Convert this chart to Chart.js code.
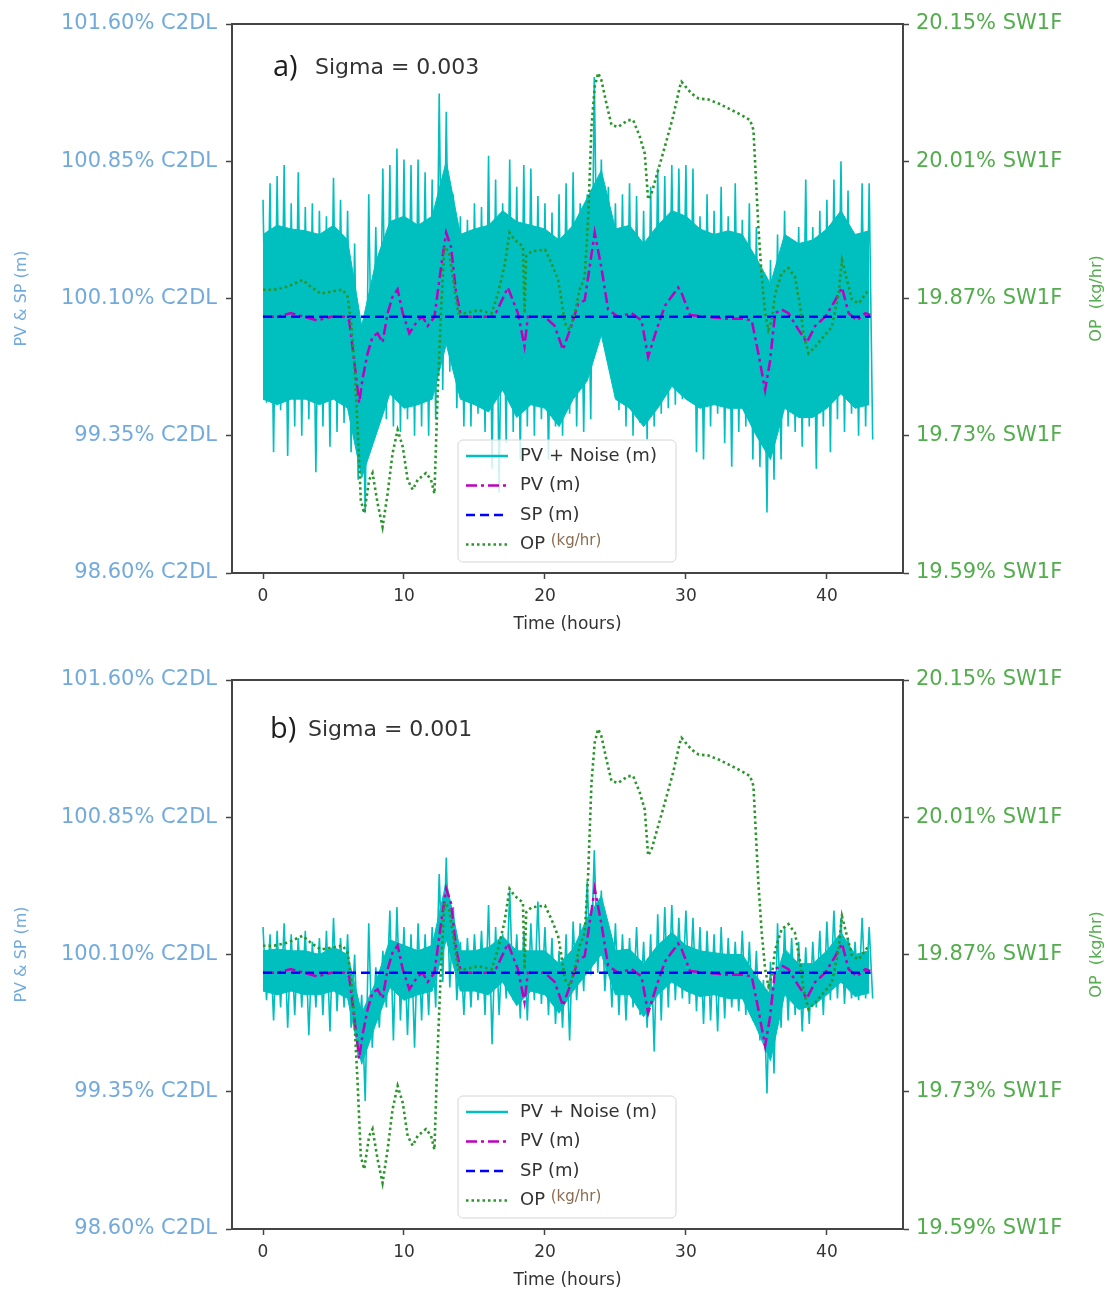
<!DOCTYPE html>
<html>
<head>
<meta charset="utf-8">
<script src="https://cdn.jsdelivr.net/npm/chart.js@4.4.0/dist/chart.umd.min.js"></script>
<style>
  body { margin: 0; background: #fff; overflow: hidden; }
  .panel { position: absolute; left: 0; width: 1113px; height: 645px; }
</style>
</head>
<body>
<div class="panel" style="top:0"><canvas id="chartA" width="1113" height="645"></canvas></div>
<div class="panel" style="top:656px"><canvas id="chartB" width="1113" height="645"></canvas></div>
<script>
// tick labels
const xTicks = [0, 10, 20, 30, 40];
const pvTicks = [98.60, 99.35, 100.10, 100.85, 101.60];
const opTicks = [19.59, 19.73, 19.87, 20.01, 20.15];

// setpoint
const spHours = [0, 43.1];
const spValues = [100.0, 100.0];

// PV (m) - same in both panels
const pvHours = [0, 1.0, 1.97, 2.9, 3.86, 4.81, 5.76, 6.11, 6.47, 6.82,
  7.06, 7.42, 7.77, 8.13, 8.48, 8.84, 9.19, 9.55, 9.91, 10.38,
  10.97, 11.33, 11.68, 12.16, 12.63, 12.99, 13.34, 13.7, 14.05, 15.0,
  16.4, 17.37, 18.08, 18.55, 18.79, 19.98, 20.69, 21.28, 21.87, 22.35,
  22.82, 23.53, 24.0, 24.48, 25.2, 26.14, 26.85, 27.32, 27.92, 28.51,
  29.45, 29.69, 30.29, 31.59, 32.77, 33.96, 34.67, 35.14, 35.62, 35.97,
  36.33, 36.8, 37.27, 37.98, 38.58, 39.17, 39.88, 40.59, 41.07, 41.54,
  42.13, 42.73, 43.08];
const pvValues = [100.00, 100.00, 100.02, 100.00, 99.98, 100.00, 100.00, 99.98, 99.76, 99.53,
  99.66, 99.80, 99.89, 99.91, 99.86, 100.02, 100.11, 100.15, 100.02, 99.91,
  99.98, 100.00, 99.95, 100.00, 100.27, 100.46, 100.38, 100.13, 100.00, 100.00,
  100.00, 100.16, 100.02, 99.84, 100.00, 100.00, 99.95, 99.82, 99.95, 100.07,
  100.09, 100.46, 100.27, 100.04, 100.00, 100.02, 99.98, 99.78, 99.93, 100.06,
  100.16, 100.13, 100.01, 100.00, 99.99, 99.99, 99.98, 99.80, 99.60, 99.76,
  100.02, 100.04, 100.02, 99.93, 99.86, 99.95, 100.00, 100.09, 100.16, 100.02,
  99.98, 100.02, 100.01];

// OP (kg/hr) - right axis
const opHours = [0, 0.78, 1.73, 2.80, 3.39, 4.1, 4.81, 5.64, 6.0, 6.23,
  6.47, 6.71, 6.94, 7.18, 7.53, 7.77, 8.13, 8.48, 8.84, 9.19,
  9.55, 9.91, 10.26, 10.62, 10.97, 11.56, 11.92, 12.16, 12.39, 12.63,
  12.87, 13.2, 13.85, 14.3, 15.27, 16.22, 16.66, 17.13, 17.49, 17.84,
  18.44, 18.55, 18.67, 19.03, 20.0, 20.46, 20.93, 21.17, 21.4, 21.75,
  22.11, 22.46, 22.82, 23.06, 23.3, 23.53, 23.77, 24.0, 24.36, 24.72,
  25.19, 25.9, 26.26, 26.73, 27.08, 27.32, 27.56, 28.03, 28.51, 29.1,
  29.57, 29.69, 30.4, 30.9, 31.59, 32.3, 33.0, 33.96, 34.55, 34.79,
  34.9, 35.14, 35.38, 35.62, 35.85, 36.09, 36.33, 36.8, 37.27, 37.74,
  38.1, 38.34, 38.7, 39.17, 39.76, 40.35, 40.83, 41.07, 41.3, 41.78,
  42.25, 42.97];
const opValues = [19.879, 19.879, 19.882, 19.889, 19.882, 19.875, 19.877, 19.879, 19.872, 19.848,
  19.807, 19.739, 19.664, 19.651, 19.685, 19.692, 19.661, 19.637, 19.671, 19.712,
  19.736, 19.719, 19.685, 19.675, 19.685, 19.692, 19.685, 19.671, 19.773, 19.858,
  19.923, 19.917, 19.855, 19.855, 19.858, 19.855, 19.875, 19.903, 19.937, 19.930,
  19.923, 19.855, 19.913, 19.918, 19.920, 19.906, 19.889, 19.869, 19.845, 19.838,
  19.855, 19.879, 19.892, 19.950, 20.045, 20.086, 20.100, 20.093, 20.069, 20.047,
  20.045, 20.052, 20.052, 20.035, 20.018, 19.971, 19.977, 20.001, 20.025, 20.056,
  20.086, 20.091, 20.079, 20.074, 20.073, 20.069, 20.064, 20.057, 20.052, 20.042,
  20.011, 19.943, 19.892, 19.855, 19.838, 19.848, 19.875, 19.896, 19.901, 19.892,
  19.862, 19.834, 19.814, 19.821, 19.831, 19.841, 19.875, 19.909, 19.896, 19.869,
  19.865, 19.879];

// PV + Noise: spike tops and spike bottoms, read every half hour
const noiseHours = [0, 0.5, 1, 1.5, 2, 2.5, 3, 3.5, 4, 4.5, 5, 5.5, 6, 6.5, 7, 7.5, 8, 8.5, 9, 9.5,
  10, 10.5, 11, 11.5, 12, 12.5, 13, 13.5, 14, 14.5, 15, 15.5, 16, 16.5, 17, 17.5, 18, 18.5, 19, 19.5,
  20, 20.5, 21, 21.5, 22, 22.5, 23, 23.5, 24, 24.5, 25, 25.5, 26, 26.5, 27, 27.5, 28, 28.5, 29, 29.5,
  30, 30.5, 31, 31.5, 32, 32.5, 33, 33.5, 34, 34.5, 35, 35.5, 36, 36.5, 37, 37.5, 38, 38.5, 39, 39.5,
  40, 40.5, 41, 41.5, 42, 42.5, 43];
// dense (solid) part of the noisy band, read every hour
const bodyHours = [0, 1, 2, 3, 4, 5, 6, 7, 8, 9, 10, 11, 12, 13, 14, 15, 16, 17, 18, 19, 20, 21,
  22, 23, 24, 25, 26, 27, 28, 29, 30, 31, 32, 33, 34, 35, 36, 37, 38, 39, 40, 41, 42, 43];

// a) sigma = 0.003
const noiseUpperA = [100.64, 100.73, 100.77, 100.83, 100.62, 100.79, 100.60, 100.62, 100.58, 100.55,
  100.76, 100.64, 100.58, 100.40, 99.95, 100.67, 100.49, 100.81, 100.83, 100.92,
  100.86, 100.83, 100.86, 100.79, 100.75, 101.22, 101.12, 100.67, 100.55, 100.53,
  100.62, 100.60, 100.88, 100.75, 100.62, 100.86, 100.71, 100.83, 100.81, 100.66,
  100.62, 100.57, 100.67, 100.73, 100.79, 100.62, 100.67, 101.31, 100.86, 100.71,
  100.62, 100.67, 100.73, 100.66, 100.58, 100.71, 100.81, 100.77, 100.83, 100.81,
  100.83, 100.81, 100.55, 100.67, 100.58, 100.71, 100.55, 100.73, 100.53, 100.62,
  100.49, 100.17, 100.31, 100.45, 100.58, 100.42, 100.49, 100.75, 100.49, 100.58,
  100.64, 100.75, 100.85, 100.69, 100.45, 100.73, 100.73];
const noiseLowerA = [99.53, 99.26, 99.49, 99.24, 99.40, 99.35, 99.44, 99.15, 99.40, 99.29,
  99.37, 99.42, 99.26, 99.11, 98.93, 99.40, 99.47, 99.44, 99.40, 99.37,
  99.44, 99.35, 99.40, 99.35, 99.44, 99.60, 99.70, 99.50, 99.40, 99.40,
  99.47, 99.37, 99.17, 99.04, 99.31, 99.37, 99.22, 99.40, 99.35, 99.44,
  99.22, 99.40, 99.35, 99.47, 99.40, 99.37, 99.44, 99.87, 99.83, 99.68,
  99.49, 99.40, 99.35, 99.42, 99.33, 99.40, 99.47, 99.50, 99.52, 99.55,
  99.55, 99.26, 99.22, 99.40, 99.47, 99.31, 99.18, 99.37, 99.40, 99.22,
  99.18, 98.93, 99.11, 99.22, 99.40, 99.37, 99.29, 99.40, 99.17, 99.40,
  99.26, 99.44, 99.37, 99.47, 99.35, 99.40, 99.33];
const bodyTopA = [100.45, 100.50, 100.48, 100.47, 100.45, 100.50, 100.42, 99.95, 100.30, 100.52,
  100.55, 100.50, 100.55, 100.85, 100.45, 100.48, 100.50, 100.58, 100.52, 100.50,
  100.48, 100.42, 100.50, 100.65, 100.80, 100.48, 100.50, 100.40, 100.50, 100.58,
  100.55, 100.48, 100.45, 100.47, 100.45, 100.32, 100.18, 100.45, 100.40, 100.42,
  100.48, 100.58, 100.45, 100.47];
const bodyBottomA = [99.55, 99.52, 99.55, 99.55, 99.52, 99.55, 99.50, 99.12, 99.35, 99.58,
  99.50, 99.52, 99.55, 99.85, 99.55, 99.52, 99.48, 99.60, 99.45, 99.52,
  99.50, 99.40, 99.55, 99.65, 99.90, 99.55, 99.50, 99.40, 99.50, 99.62,
  99.55, 99.50, 99.52, 99.50, 99.50, 99.35, 99.22, 99.50, 99.45, 99.45,
  99.50, 99.58, 99.50, 99.52];

// b) sigma = 0.001
const noiseUpperB = [100.25, 100.21, 100.23, 100.27, 100.21, 100.19, 100.23, 100.17, 100.19, 100.23,
  100.30, 100.19, 100.21, 100.10, 99.88, 100.27, 100.03, 100.12, 100.34, 100.36,
  100.25, 100.21, 100.27, 100.21, 100.25, 100.54, 100.63, 100.36, 100.17, 100.19,
  100.21, 100.23, 100.37, 100.25, 100.21, 100.45, 100.21, 100.23, 100.27, 100.39,
  100.25, 100.19, 100.12, 100.21, 100.28, 100.27, 100.50, 100.67, 100.45, 100.23,
  100.27, 100.21, 100.19, 100.25, 100.17, 100.21, 100.32, 100.36, 100.37, 100.30,
  100.34, 100.30, 100.25, 100.23, 100.21, 100.25, 100.19, 100.17, 100.23, 100.17,
  100.12, 99.96, 100.06, 100.27, 100.25, 100.19, 100.17, 100.14, 100.17, 100.23,
  100.28, 100.34, 100.30, 100.19, 100.17, 100.30, 100.25];
const noiseLowerB = [99.85, 99.74, 99.81, 99.70, 99.77, 99.81, 99.66, 99.81, 99.77, 99.68,
  99.79, 99.81, 99.70, 99.54, 99.30, 99.59, 99.70, 99.81, 99.63, 99.74,
  99.66, 99.59, 99.74, 99.77, 99.81, 99.95, 99.92, 99.85, 99.77, 99.81,
  99.85, 99.77, 99.61, 99.77, 99.86, 99.85, 99.75, 99.74, 99.85, 99.83,
  99.77, 99.72, 99.70, 99.63, 99.85, 99.90, 99.99, 100.00, 99.90, 99.81,
  99.77, 99.74, 99.81, 99.77, 99.70, 99.57, 99.74, 99.81, 99.85, 99.86,
  99.83, 99.79, 99.72, 99.74, 99.68, 99.75, 99.81, 99.79, 99.77, 99.74,
  99.63, 99.34, 99.45, 99.70, 99.74, 99.77, 99.68, 99.72, 99.81, 99.77,
  99.85, 99.86, 99.83, 99.86, 99.85, 99.86, 99.86];
const bodyTopB = [100.12, 100.13, 100.12, 100.12, 100.10, 100.14, 100.10, 99.78, 99.95, 100.18,
  100.15, 100.12, 100.15, 100.50, 100.12, 100.12, 100.14, 100.20, 100.12, 100.12,
  100.12, 100.05, 100.13, 100.30, 100.42, 100.12, 100.13, 100.05, 100.15, 100.22,
  100.15, 100.12, 100.11, 100.10, 100.10, 99.98, 99.88, 100.13, 100.05, 100.05,
  100.12, 100.22, 100.10, 100.12];
const bodyBottomB = [99.90, 99.88, 99.90, 99.88, 99.88, 99.90, 99.86, 99.50, 99.72, 99.92,
  99.85, 99.88, 99.90, 100.18, 99.90, 99.90, 99.88, 99.95, 99.82, 99.90,
  99.88, 99.78, 99.90, 100.00, 100.10, 99.88, 99.88, 99.76, 99.88, 99.95,
  99.90, 99.87, 99.88, 99.86, 99.86, 99.70, 99.52, 99.88, 99.80, 99.82,
  99.88, 99.95, 99.87, 99.89];

const LEFT_COLOR = '#73aadc';
const RIGHT_COLOR = '#52ad4c';
const AXIS_COLOR = '#444';
const CYAN = '#00bfbf';

function zip(xs, ys) {
  return xs.map((x, i) => ({ x: x, y: ys[i] }));
}

// noisy trace: from each spike top down to the next spike bottom
function zigzag(xs, tops, bottoms) {
  const pts = [];
  xs.forEach((x, i) => {
    pts.push({ x: x, y: tops[i] });
    pts.push({ x: x + 0.25, y: bottoms[i] });
  });
  return pts;
}

// draws the top spine, axis titles, the panel label and the legend box
const overlayPlugin = {
  id: 'overlay',
  afterDraw(chart, args, opts) {
    const ctx = chart.ctx;
    const ca = chart.chartArea;
    ctx.save();

    ctx.strokeStyle = AXIS_COLOR;
    ctx.lineWidth = 2;
    ctx.beginPath();
    ctx.moveTo(ca.left, ca.top);
    ctx.lineTo(ca.right, ca.top);
    ctx.stroke();

    const cy = (ca.top + ca.bottom) / 2;
    ctx.textAlign = 'center';
    ctx.textBaseline = 'middle';
    ctx.font = '16px "DejaVu Sans"';

    ctx.save();
    ctx.fillStyle = LEFT_COLOR;
    ctx.translate(22, cy);
    ctx.rotate(-Math.PI / 2);
    ctx.fillText('PV & SP (m)', 0, 0);
    ctx.restore();

    ctx.save();
    ctx.fillStyle = RIGHT_COLOR;
    ctx.translate(1097, cy);
    ctx.rotate(-Math.PI / 2);
    ctx.fillText('OP  (kg/hr)', 0, 0);
    ctx.restore();

    ctx.fillStyle = '#333';
    ctx.font = '17px "DejaVu Sans"';
    ctx.fillText('Time (hours)', (ca.left + ca.right) / 2, ca.bottom + 52);

    // panel label
    ctx.textAlign = 'left';
    ctx.fillStyle = '#1e1e1e';
    ctx.font = '29px "Open Sans"';
    ctx.fillText(opts.letter, ca.left + opts.letterX, ca.top + opts.labelY);
    ctx.fillStyle = '#333';
    ctx.font = '22px "DejaVu Sans"';
    ctx.fillText(opts.sigma, ca.left + opts.sigmaX, ca.top + opts.labelY);

    // legend
    const lx = ca.left + 226, ly = ca.top + 416, lw = 218, lh = 122;
    ctx.beginPath();
    ctx.roundRect(lx, ly, lw, lh, 5);
    ctx.fillStyle = 'rgba(255,255,255,0.8)';
    ctx.fill();
    ctx.strokeStyle = '#d6d6d6';
    ctx.lineWidth = 1;
    ctx.stroke();

    const items = [
      { text: 'PV + Noise (m)', color: CYAN, dash: [], width: 2.5 },
      { text: 'PV (m)', color: '#bf00bf', dash: [11, 4, 3, 4], width: 2.5 },
      { text: 'SP (m)', color: '#0000ff', dash: [9, 5], width: 2.5 },
      { text: 'OP', color: '#2a952a', dash: [2.5, 3], width: 2.5 }
    ];
    items.forEach((it, i) => {
      const y = ly + 16 + i * 29.5;
      ctx.beginPath();
      ctx.setLineDash(it.dash);
      ctx.strokeStyle = it.color;
      ctx.lineWidth = it.width;
      ctx.moveTo(lx + 8, y);
      ctx.lineTo(lx + 50, y);
      ctx.stroke();
      ctx.setLineDash([]);
      ctx.fillStyle = '#333';
      ctx.font = '18px "DejaVu Sans"';
      ctx.fillText(it.text, lx + 62, y);
      if (it.text === 'OP') {
        const w = ctx.measureText('OP ').width;
        ctx.font = '15px "DejaVu Sans"';
        ctx.fillStyle = '#8a6d4f';
        ctx.fillText('(kg/hr)', lx + 62 + w, y - 3);
      }
    });

    ctx.restore();
  }
};

function makeChart(id, upper, lower, bodyTop, bodyBottom, label) {
  return new Chart(document.getElementById(id), {
    type: 'line',
    data: {
      datasets: [
        { label: 'OP (kg/hr)', data: zip(opHours, opValues), yAxisID: 'y2',
          borderColor: '#2a952a', borderDash: [2.5, 3], borderWidth: 2.6, order: 1 },
        { label: 'SP (m)', data: zip(spHours, spValues), yAxisID: 'y',
          borderColor: '#0000ff', borderDash: [9, 5], borderWidth: 2.5, order: 2 },
        { label: 'PV (m)', data: zip(pvHours, pvValues), yAxisID: 'y',
          borderColor: '#bf00bf', borderDash: [11, 4, 3, 4], borderWidth: 2.5, order: 3 },
        { label: 'PV + Noise (m)', data: zigzag(noiseHours, upper, lower), yAxisID: 'y',
          borderColor: CYAN, borderWidth: 1.6, order: 4 },
        { label: 'noise body', data: zip(bodyHours, bodyTop), yAxisID: 'y',
          borderColor: CYAN, backgroundColor: CYAN, borderWidth: 1, fill: '+1', order: 5 },
        { label: 'noise body low', data: zip(bodyHours, bodyBottom), yAxisID: 'y',
          borderColor: CYAN, borderWidth: 1, order: 6 }
      ]
    },
    options: {
      responsive: false,
      animation: false,
      layout: { padding: { top: 24, left: 0, right: 0, bottom: 0 } },
      elements: { point: { radius: 0 }, line: { tension: 0 } },
      plugins: {
        legend: { display: false },
        tooltip: { enabled: false },
        overlay: label
      },
      scales: {
        x: {
          type: 'linear', min: -2.2, max: 45.4,
          afterFit: s => { s.height = 72; },
          afterBuildTicks: s => { s.ticks = xTicks.map(v => ({ value: v })); },
          ticks: { color: '#333', font: { family: 'DejaVu Sans', size: 17 }, padding: 7 },
          grid: { drawOnChartArea: false, tickLength: 6, color: AXIS_COLOR, tickWidth: 1.5 },
          border: { color: AXIS_COLOR, width: 2 }
        },
        y: {
          position: 'left', min: 98.6, max: 101.6,
          afterFit: s => { s.width = 232; },
          afterBuildTicks: s => { s.ticks = pvTicks.map(v => ({ value: v })); },
          ticks: { color: LEFT_COLOR, font: { family: 'DejaVu Sans', size: 21 }, padding: 9,
                   callback: v => v.toFixed(2) + '% C2DL' },
          grid: { drawOnChartArea: false, tickLength: 6, color: AXIS_COLOR, tickWidth: 1.5 },
          border: { color: AXIS_COLOR, width: 2 }
        },
        y2: {
          position: 'right', min: 19.59, max: 20.15,
          afterFit: s => { s.width = 210; },
          afterBuildTicks: s => { s.ticks = opTicks.map(v => ({ value: v })); },
          ticks: { color: RIGHT_COLOR, font: { family: 'DejaVu Sans', size: 21 }, padding: 7,
                   callback: v => v.toFixed(2) + '% SW1F' },
          grid: { drawOnChartArea: false, tickLength: 6, color: AXIS_COLOR, tickWidth: 1.5 },
          border: { color: AXIS_COLOR, width: 2 }
        }
      }
    },
    plugins: [overlayPlugin]
  });
}

makeChart('chartA', noiseUpperA, noiseLowerA, bodyTopA, bodyBottomA,
  { letter: 'a)', sigma: 'Sigma = 0.003', letterX: 41, sigmaX: 83, labelY: 44 });
makeChart('chartB', noiseUpperB, noiseLowerB, bodyTopB, bodyBottomB,
  { letter: 'b)', sigma: 'Sigma = 0.001', letterX: 38, sigmaX: 76, labelY: 50 });
</script>
</body>
</html>
